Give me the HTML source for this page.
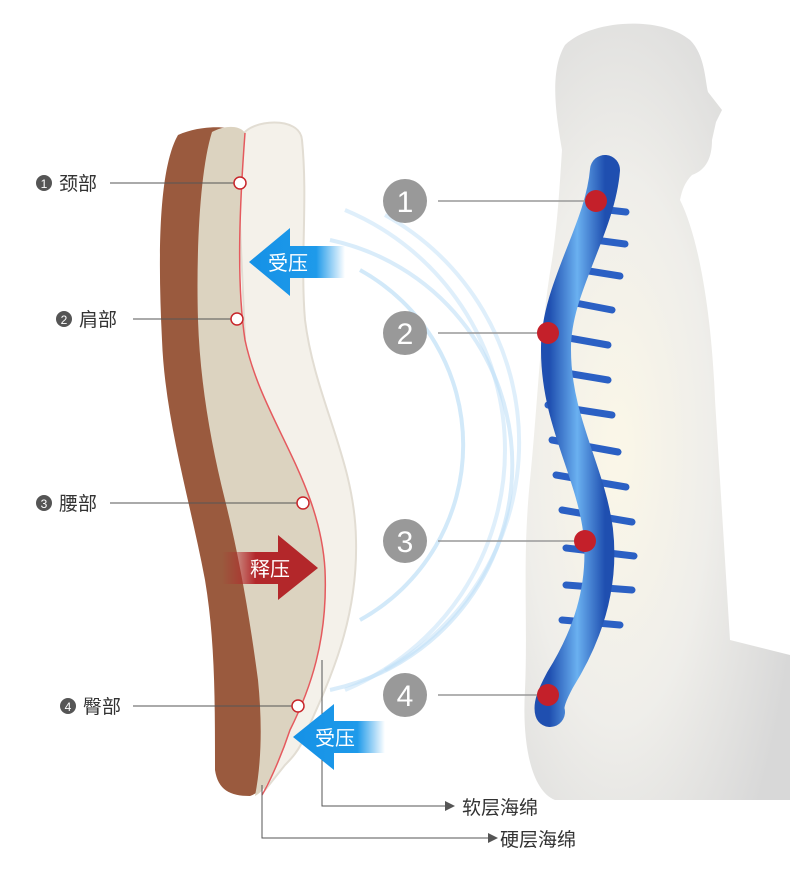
<!DOCTYPE html>
<html><head><meta charset="utf-8"><style>
html,body{margin:0;padding:0;background:#fff;}
svg{display:block;font-family:"Liberation Sans","Noto Sans CJK SC",sans-serif;}
</style></head><body>
<svg width="790" height="876" viewBox="0 0 790 876" xmlns="http://www.w3.org/2000/svg">
<defs>
<radialGradient id="body" cx="0.35" cy="0.55" r="0.7">
<stop offset="0" stop-color="#fbf7e8"/><stop offset="0.5" stop-color="#efeeea"/><stop offset="1" stop-color="#d8d8d8"/>
</radialGradient>
<linearGradient id="spine" x1="0" y1="0" x2="1" y2="0">
<stop offset="0" stop-color="#1f4fb0"/><stop offset="0.5" stop-color="#6ab0f0"/><stop offset="1" stop-color="#1f4fb0"/>
</linearGradient>
<linearGradient id="barB" x1="0" y1="0" x2="1" y2="0">
<stop offset="0" stop-color="#1591e6"/><stop offset="0.7" stop-color="#1e9aea"/><stop offset="1" stop-color="#1e9aea" stop-opacity="0"/>
</linearGradient>
<linearGradient id="barR" x1="0" y1="0" x2="1" y2="0">
<stop offset="0" stop-color="#b0282b" stop-opacity="0"/><stop offset="0.35" stop-color="#b3272a"/><stop offset="1" stop-color="#b3272a"/>
</linearGradient>
</defs>
<!-- human silhouette -->
<path d="M565 45 C590 20 660 15 690 40 C705 55 705 80 708 92 L722 110 L716 122 L712 140 C712 158 706 170 692 175 C685 182 682 190 680 200 C700 240 712 320 715 400 C720 480 725 560 730 640 L790 655 L790 800 L555 800 C530 790 522 740 525 690 C528 620 522 560 530 480 C538 400 540 330 552 260 C558 220 560 180 562 150 C555 110 550 70 565 45 Z" fill="url(#body)"/>
<!-- spine -->
<g stroke="#2b60c4" stroke-width="7" stroke-linecap="round">
<line x1="590" y1="208" x2="626" y2="212"/><line x1="580" y1="238" x2="625" y2="244"/><line x1="570" y1="268" x2="620" y2="276"/><line x1="560" y1="300" x2="612" y2="310"/><line x1="552" y1="335" x2="608" y2="345"/><line x1="548" y1="370" x2="608" y2="380"/><line x1="548" y1="405" x2="612" y2="415"/><line x1="552" y1="440" x2="618" y2="452"/><line x1="556" y1="475" x2="626" y2="487"/><line x1="562" y1="510" x2="632" y2="522"/><line x1="566" y1="548" x2="634" y2="556"/><line x1="566" y1="585" x2="632" y2="590"/><line x1="562" y1="620" x2="620" y2="625"/>
</g>
<path d="M605 170 C600 230 555 290 556 350 C556 420 590 470 598 530 C605 590 585 640 560 680 C552 695 548 705 550 712" fill="none" stroke="url(#spine)" stroke-width="30" stroke-linecap="round"/>
<!-- arcs -->
<g fill="none" stroke="#bfe0f7" stroke-width="4">
<path d="M330 240 A230 230 0 0 1 330 690" opacity="0.6"/>
<path d="M345 210 A260 260 0 0 1 345 690" opacity="0.5"/>
<path d="M360 270 A200 200 0 0 1 360 620" opacity="0.7"/>
<path d="M385 215 A260 260 0 0 1 385 670" opacity="0.5"/>
</g>
<!-- cushion: soft white -->
<path d="M243 135 C250 120 300 115 302 140 C308 200 300 260 305 320 C315 400 355 460 356 540 C358 620 330 680 305 735 C300 750 290 760 285 765 L265 790 L238 180 Z" fill="#f4f1ea" stroke="#e2ddd3" stroke-width="2"/>
<!-- brown hard -->
<path d="M178 135 C200 125 230 125 245 133 C240 200 236 280 245 340 C262 420 320 480 325 570 C328 640 310 690 290 730 C280 760 268 790 250 796 C230 796 218 790 215 770 C215 700 215 640 205 580 C190 500 165 420 162 340 C158 260 158 170 178 135 Z" fill="#9a5a3e"/>
<path d="M212 132 C225 125 240 125 245 133 C240 200 236 280 245 340 C262 420 320 480 325 570 C328 640 310 690 290 730 C280 760 268 790 255 796 C262 760 262 720 258 680 C250 620 240 560 225 500 C210 440 200 380 198 320 C196 250 200 170 212 132 Z" fill="#dcd3c0"/>
<path d="M245 133 C240 200 236 280 245 340 C262 420 320 480 325 570 C328 640 310 690 290 730 C280 760 268 785 262 795" fill="none" stroke="#e55a5e" stroke-width="1.5"/>
<!-- label lines -->
<g stroke="#555" stroke-width="1" fill="none">
<line x1="110" y1="183" x2="236" y2="183"/>
<line x1="133" y1="319" x2="233" y2="319"/>
<line x1="110" y1="503" x2="299" y2="503"/>
<line x1="133" y1="706" x2="294" y2="706"/>
<polyline points="322,660 322,806 445,806"/>
<polyline points="262,785 262,838 488,838"/>
</g>
<path d="M445 801 L455 806 L445 811 Z" fill="#555"/>
<path d="M488 833 L498 838 L488 843 Z" fill="#555"/>
<g fill="#fff" stroke="#c8262b" stroke-width="1.5">
<circle cx="240" cy="183" r="6"/><circle cx="237" cy="319" r="6"/><circle cx="303" cy="503" r="6"/><circle cx="298" cy="706" r="6"/>
</g>
<!-- left labels -->
<g font-size="19" fill="#333">
<circle cx="44" cy="183" r="8" fill="#555"/><text x="44" y="188" font-size="12" fill="#fff" text-anchor="middle">1</text><text x="59" y="190">颈部</text>
<circle cx="64" cy="319" r="8" fill="#555"/><text x="64" y="324" font-size="12" fill="#fff" text-anchor="middle">2</text><text x="79" y="326">肩部</text>
<circle cx="44" cy="503" r="8" fill="#555"/><text x="44" y="508" font-size="12" fill="#fff" text-anchor="middle">3</text><text x="59" y="510">腰部</text>
<circle cx="68" cy="706" r="8" fill="#555"/><text x="68" y="711" font-size="12" fill="#fff" text-anchor="middle">4</text><text x="83" y="713">臀部</text>
<text x="462" y="814">软层海绵</text>
<text x="500" y="846">硬层海绵</text>
</g>
<!-- arrows -->
<path d="M249 262 L290 228 L290 246 L345 246 L345 278 L290 278 L290 296 Z" fill="url(#barB)"/>
<text x="268" y="270" font-size="20" fill="#fff">受压</text>
<path d="M222 552 L278 552 L278 535 L318 568 L278 600 L278 584 L222 584 Z" fill="url(#barR)"/>
<text x="250" y="576" font-size="20" fill="#fff">释压</text>
<path d="M293 737 L334 704 L334 721 L385 721 L385 753 L334 753 L334 770 Z" fill="url(#barB)"/>
<text x="315" y="745" font-size="20" fill="#fff">受压</text>
<!-- numbers right -->
<g stroke="#999" stroke-width="1.5">
<line x1="438" y1="201" x2="596" y2="201"/><line x1="438" y1="333" x2="548" y2="333"/><line x1="438" y1="541" x2="585" y2="541"/><line x1="438" y1="695" x2="548" y2="695"/>
</g>
<g fill="#999"><circle cx="405" cy="201" r="22"/><circle cx="405" cy="333" r="22"/><circle cx="405" cy="541" r="22"/><circle cx="405" cy="695" r="22"/></g>
<g fill="#fff" font-size="30" text-anchor="middle"><text x="405" y="212">1</text><text x="405" y="344">2</text><text x="405" y="552">3</text><text x="405" y="706">4</text></g>
<g fill="#c4202a"><circle cx="596" cy="201" r="11"/><circle cx="548" cy="333" r="11"/><circle cx="585" cy="541" r="11"/><circle cx="548" cy="695" r="11"/></g>
</svg>
</body></html>
